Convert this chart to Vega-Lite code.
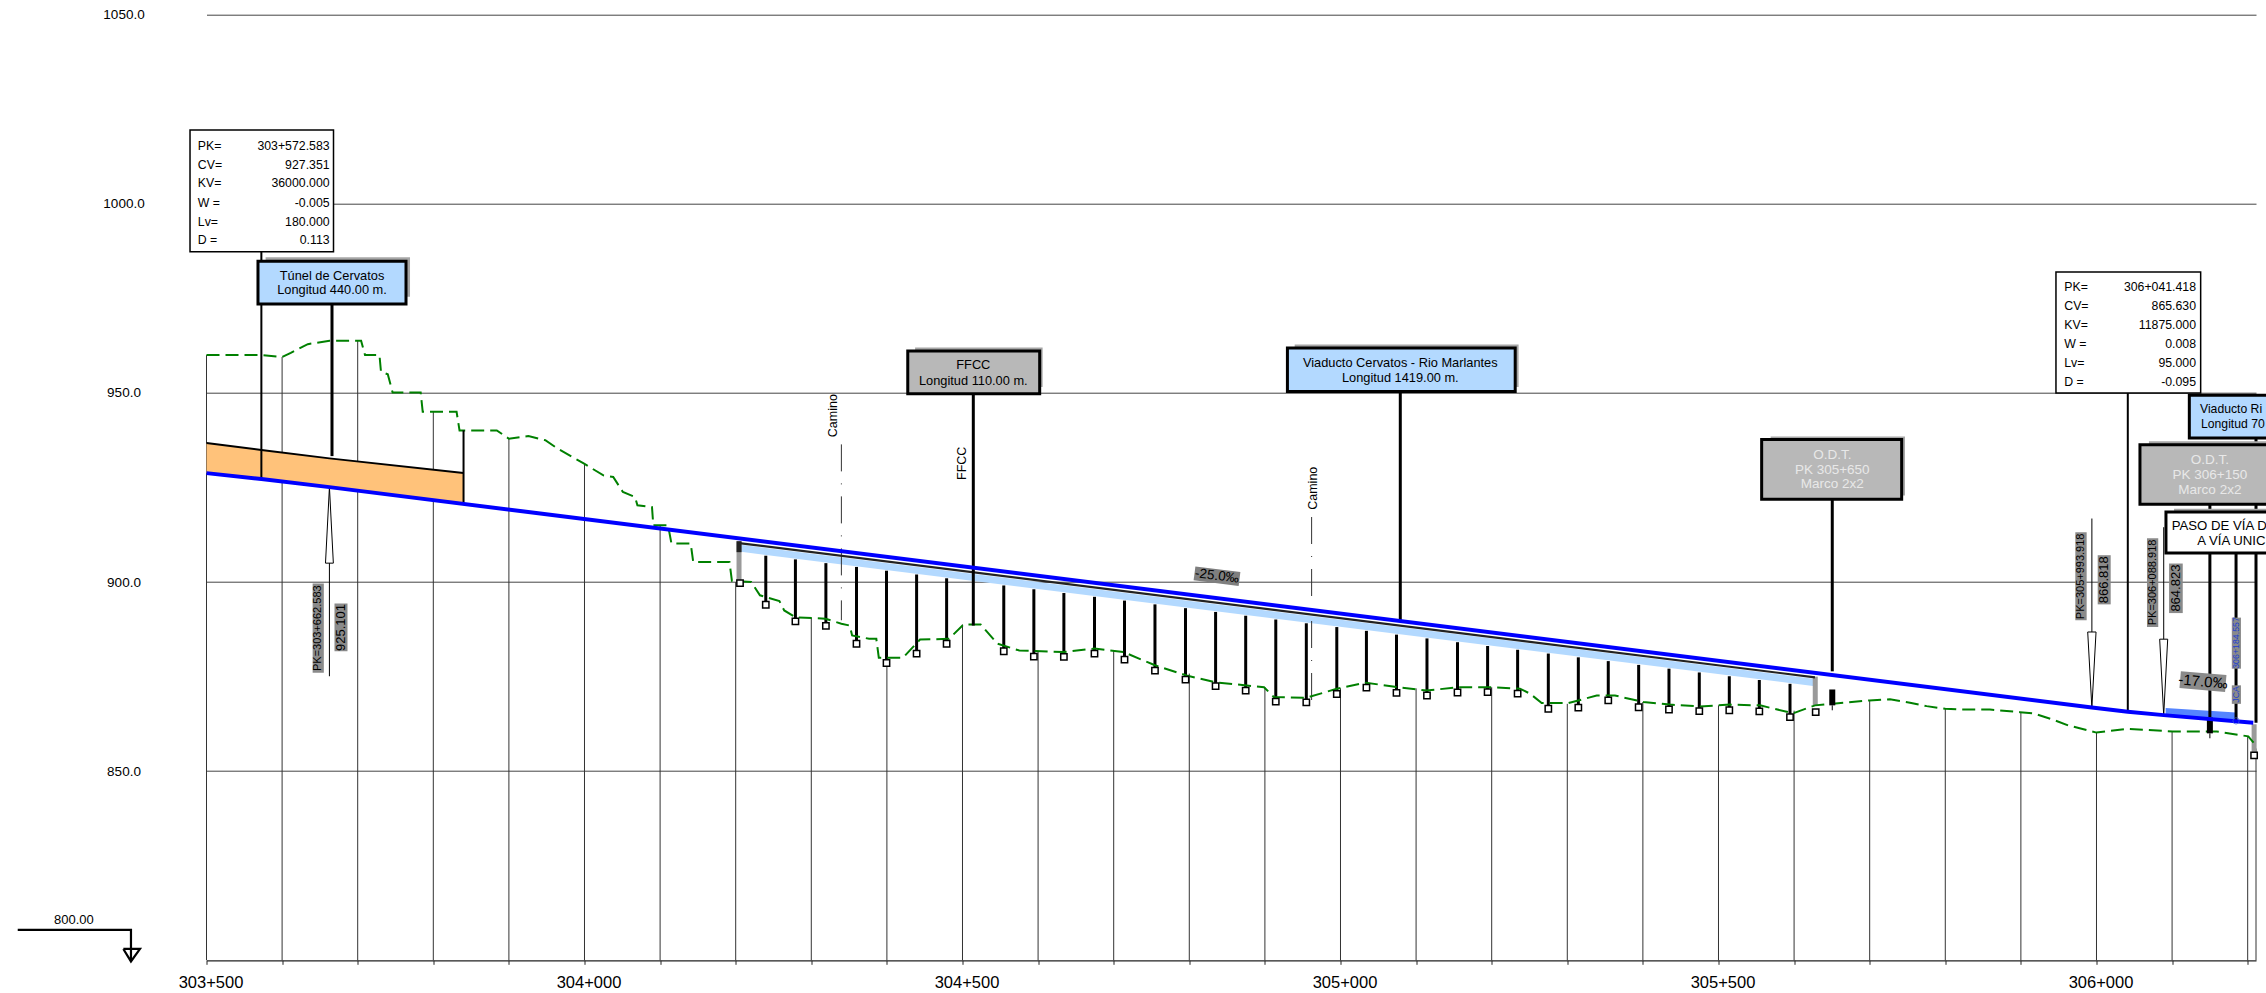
{
"$schema":"https://vega.github.io/schema/vega-lite/v6.json",
"width":2049.5,"height":945.6,
"autosize":{"type":"none"},
"padding":{"left":206.5,"top":14.7,"right":10,"bottom":32.7},
"background":"white",
"config":{"view":{"stroke":null},"text":{"font":"Liberation Sans"}},
"datasets":{
"stations":[{"st":303500,"el":960,"el2":800},{"st":303600,"el":959.5,"el2":800},{"st":303700,"el":963.8,"el2":800},{"st":303800,"el":945,"el2":800},{"st":303900,"el":937.9,"el2":800},{"st":304000,"el":931.3,"el2":800},{"st":304100,"el":915,"el2":800},{"st":304200,"el":900,"el2":800},{"st":304300,"el":890.5,"el2":800},{"st":304400,"el":879.8,"el2":800},{"st":304500,"el":888.8,"el2":800},{"st":304600,"el":881.5,"el2":800},{"st":304700,"el":881.9,"el2":800},{"st":304800,"el":875.8,"el2":800},{"st":304900,"el":872.2,"el2":800},{"st":305000,"el":871.9,"el2":800},{"st":305100,"el":871.9,"el2":800},{"st":305200,"el":872.2,"el2":800},{"st":305300,"el":867.8,"el2":800},{"st":305400,"el":868.3,"el2":800},{"st":305500,"el":867.4,"el2":800},{"st":305600,"el":866,"el2":800},{"st":305700,"el":868.7,"el2":800},{"st":305800,"el":866.5,"el2":800},{"st":305900,"el":865.6,"el2":800},{"st":306000,"el":860.2,"el2":800},{"st":306100,"el":860.5,"el2":800},{"st":306200,"el":859.2,"el2":800},{"st":306211,"el":856,"el2":800}],
"tunnel":[{"st":303500,"el":936.77,"el2":928.8},{"st":303572.6,"el":934.9,"el2":927.24},{"st":303662.6,"el":932.7,"el2":925.1},{"st":303840,"el":928.84,"el2":920.66}],
"deck":[{"st":304204.4,"el":909.9,"el2":908.06},{"st":305627.6,"el":874.4,"el2":872.47}],
"deckline":[{"st":304204.4,"el":910.3},{"st":305627.6,"el":874.8}],
"wedge":[{"st":306091.5,"el":866.7,"el2":864.78},{"st":306184.6,"el":865.5,"el2":863.2}],
"ground":[{"st":303500,"el":960},{"st":303573.1,"el":960},{"st":303600,"el":959.5},{"st":303611.5,"el":960.6},{"st":303634,"el":962.9},{"st":303662.8,"el":963.8},{"st":303704.5,"el":963.8},{"st":303709.7,"el":960},{"st":303728.8,"el":960},{"st":303730.8,"el":955.6},{"st":303739.8,"el":954.95},{"st":303746.2,"el":950.1},{"st":303783.3,"el":950.1},{"st":303786,"el":945},{"st":303830.8,"el":945},{"st":303834.7,"el":940.1},{"st":303884,"el":940.1},{"st":303900,"el":937.9},{"st":303925.8,"el":938.6},{"st":303948.2,"el":937.5},{"st":303964.2,"el":935.3},{"st":303999.5,"el":931.3},{"st":304025,"el":928.2},{"st":304038,"el":927.8},{"st":304050.8,"el":923.8},{"st":304066.8,"el":922.5},{"st":304070,"el":920.3},{"st":304089.3,"el":919.8},{"st":304091,"el":915},{"st":304110.5,"el":915},{"st":304115,"el":910.2},{"st":304140.5,"el":910.2},{"st":304143.8,"el":905.3},{"st":304191.8,"el":905.3},{"st":304195,"el":900.3},{"st":304220.6,"el":900},{"st":304232.1,"el":896.5},{"st":304257.8,"el":895},{"st":304264.2,"el":892.5},{"st":304279,"el":890.7},{"st":304318.7,"el":890.3},{"st":304339.8,"el":889},{"st":304350.8,"el":888.5},{"st":304354,"el":885.9},{"st":304376.5,"el":885},{"st":304386,"el":885},{"st":304389.3,"el":880},{"st":304421.3,"el":880},{"st":304443.8,"el":884.8},{"st":304482.1,"el":885},{"st":304501.5,"el":888.8},{"st":304524,"el":888.8},{"st":304546.3,"el":883.7},{"st":304575.1,"el":881.9},{"st":304633,"el":881.5},{"st":304674.6,"el":882.4},{"st":304713,"el":881.5},{"st":304754.6,"el":878},{"st":304796.4,"el":875.3},{"st":304834.8,"el":873.5},{"st":304898.9,"el":872.2},{"st":304911.8,"el":869.6},{"st":304954.8,"el":869.4},{"st":304995.1,"el":871.8},{"st":305033.6,"el":873.4},{"st":305075.3,"el":872.2},{"st":305113.8,"el":871.3},{"st":305155.4,"el":872.2},{"st":305200.4,"el":872.2},{"st":305237.4,"el":871.8},{"st":305250.7,"el":870.5},{"st":305266.1,"el":868},{"st":305301.3,"el":868},{"st":305338.9,"el":870},{"st":305363.1,"el":870},{"st":305400.6,"el":868.3},{"st":305435.8,"el":867.6},{"st":305475.5,"el":867.1},{"st":305515.2,"el":867.6},{"st":305555,"el":867.4},{"st":305598.9,"el":865.3},{"st":305627.6,"el":867.4},{"st":305699.5,"el":868.7},{"st":305726.8,"el":869},{"st":305753.3,"el":868.1},{"st":305775.4,"el":867.2},{"st":305800,"el":866.5},{"st":305819.5,"el":866.3},{"st":305859.1,"el":866.3},{"st":305898.8,"el":865.6},{"st":305916.4,"el":865.3},{"st":305942.9,"el":863.6},{"st":305962.7,"el":862.1},{"st":306000,"el":860.2},{"st":306039.9,"el":861.2},{"st":306100.8,"el":860.5},{"st":306159,"el":860.5},{"st":306200.8,"el":859.2},{"st":306211,"el":856.8}],
"grade":[{"st":303500,"el":928.8},{"st":303572.6,"el":927.24},{"st":303662.6,"el":925.1},{"st":305993.9,"el":866.82},{"st":306041.4,"el":865.73},{"st":306088.9,"el":864.82},{"st":306207.4,"el":862.8}],
"piers":[{"st":304239.8,"el":906.97,"el2":894},{"st":304279,"el":906,"el2":889.6},{"st":304319.3,"el":905,"el2":888.4},{"st":304359.8,"el":904,"el2":883.7},{"st":304399.5,"el":903,"el2":878.6},{"st":304439.3,"el":902,"el2":881.1},{"st":304479,"el":901,"el2":883.7},{"st":304554.6,"el":899.1,"el2":881.7},{"st":304594.4,"el":898.1,"el2":880.3},{"st":304634.1,"el":897.1,"el2":880.2},{"st":304674.6,"el":896.1,"el2":881.1},{"st":304714.3,"el":895.1,"el2":879.5},{"st":304754.6,"el":894.1,"el2":876.6},{"st":304795,"el":893.1,"el2":874.2},{"st":304834.8,"el":892.1,"el2":872.5},{"st":304874.6,"el":891.1,"el2":871.3},{"st":304914.4,"el":890.1,"el2":868.4},{"st":304954.8,"el":889.1,"el2":868.2},{"st":304995.1,"el":888.1,"el2":870.4},{"st":305034.3,"el":887.1,"el2":872.1},{"st":305074.1,"el":886.1,"el2":870.7},{"st":305114.4,"el":885.1,"el2":870},{"st":305154.8,"el":884.1,"el2":870.8},{"st":305194.6,"el":883.1,"el2":870.9},{"st":305234.3,"el":882.1,"el2":870.5},{"st":305274.9,"el":881.1,"el2":866.5},{"st":305314.6,"el":880.1,"el2":866.8},{"st":305354.2,"el":879.1,"el2":868.7},{"st":305394.4,"el":878.1,"el2":866.9},{"st":305434.5,"el":877.1,"el2":866.3},{"st":305474.6,"el":876.1,"el2":865.9},{"st":305514.3,"el":875.1,"el2":866.1},{"st":305554,"el":874.1,"el2":865.8},{"st":305594.6,"el":873.1,"el2":864.3}],
"footings":[{"st":304205.7,"el":899.7},{"st":304239.8,"el":894},{"st":304279,"el":889.6},{"st":304319.3,"el":888.4},{"st":304359.8,"el":883.7},{"st":304399.5,"el":878.6},{"st":304439.3,"el":881.1},{"st":304479,"el":883.7},{"st":304554.6,"el":881.7},{"st":304594.4,"el":880.3},{"st":304634.1,"el":880.2},{"st":304674.6,"el":881.1},{"st":304714.3,"el":879.5},{"st":304754.6,"el":876.6},{"st":304795,"el":874.2},{"st":304834.8,"el":872.5},{"st":304874.6,"el":871.3},{"st":304914.4,"el":868.4},{"st":304954.8,"el":868.2},{"st":304995.1,"el":870.4},{"st":305034.3,"el":872.1},{"st":305074.1,"el":870.7},{"st":305114.4,"el":870},{"st":305154.8,"el":870.8},{"st":305194.6,"el":870.9},{"st":305234.3,"el":870.5},{"st":305274.9,"el":866.5},{"st":305314.6,"el":866.8},{"st":305354.2,"el":868.7},{"st":305394.4,"el":866.9},{"st":305434.5,"el":866.3},{"st":305474.6,"el":865.9},{"st":305514.3,"el":866.1},{"st":305554,"el":865.8},{"st":305594.6,"el":864.3},{"st":305628.6,"el":865.6},{"st":306208.5,"el":854.2}],
"abutGrey":[{"st":304204.4,"el":910.8,"el2":900.4},{"st":305628,"el":875,"el2":867.5},{"st":306208.5,"el":862.4,"el2":854.2}],
"abutDark":[{"st":304204.4,"el":910.8,"el2":907.9}],
"heavy":[{"st":303666,"el":973.5,"el2":933.3},{"st":304514.3,"el":949.8,"el2":888.5},{"st":305079.1,"el":950.4,"el2":889.9},{"st":305650.5,"el":921.9,"el2":876.4},{"st":306150,"el":920.6,"el2":864.3},{"st":306211,"el":938,"el2":862.8},{"st":306184.6,"el":907.7,"el2":863.4}],
"medium":[{"st":303572.583,"el":987.3,"el2":927.2},{"st":306041.418,"el":950,"el2":865.7},{"st":303840,"el":940.1,"el2":920.7}],
"stems":[{"st":303662.583,"el":905,"el2":875.1},{"st":305993.918,"el":916.8,"el2":886.8},{"st":306088.918,"el":914.5,"el2":884.9},{"st":305650.5,"el":867.4,"el2":866.1},{"st":306150,"el":860,"el2":858.7}],
"plugs":[{"st":305650.5,"el":871.6,"el2":867.4},{"st":306150,"el":864.2,"el2":860}],
"arrows":[{"id":"a","i":1,"st":303657.4,"el":905},{"id":"a","i":2,"st":303662.6,"el":925.1},{"id":"a","i":3,"st":303667.8,"el":905},{"id":"a","i":4,"st":303657.4,"el":905},{"id":"b","i":1,"st":305988.4,"el":886.8},{"id":"b","i":2,"st":305993.9,"el":866.8},{"id":"b","i":3,"st":305999.4,"el":886.8},{"id":"b","i":4,"st":305988.4,"el":886.8},{"id":"c","i":1,"st":306083.6,"el":884.9},{"id":"c","i":2,"st":306088.9,"el":864.8},{"id":"c","i":3,"st":306094.2,"el":884.9},{"id":"c","i":4,"st":306083.6,"el":884.9}],
"camino":[{"st":304339.8,"el":936.4,"el2":889.9},{"st":304961.8,"el":917.2,"el2":868.7}],
"shadows":[{"st":303578.2,"st2":303769.2,"el":985.9,"el2":975.4},{"st":304437.3,"st2":304606,"el":962,"el2":951.6},{"st":304939.4,"st2":305235.6,"el":962.8,"el2":951.6},{"st":305569,"st2":305746.7,"el":938.5,"el2":922.9},{"st":306069.4,"st2":306270,"el":937.2,"el2":921.6},{"st":306102.6,"st2":306270,"el":919.4,"el2":908.6}],
"boxes":[{"st":303568.1,"st2":303763.9,"el":984.8,"el2":973.5,"kind":"blue"},{"st":304427.6,"st2":304602.1,"el":961.1,"el2":949.8,"kind":"grey"},{"st":304929.8,"st2":305231.1,"el":961.9,"el2":950.4,"kind":"blue"},{"st":305557.1,"st2":305742.3,"el":937.7,"el2":921.9,"kind":"grey"},{"st":306122.8,"st2":306270,"el":949.4,"el2":938.1,"kind":"blue"},{"st":306057.5,"st2":306270,"el":936.3,"el2":920.6,"kind":"grey"},{"st":306091.9,"st2":306270,"el":918.5,"el2":907.7,"kind":"white"}],
"pkboxes":[{"st":303478.2,"st2":303668,"el":1019.5,"el2":987.3},{"st":305946.4,"st2":306137.8,"el":982,"el2":950}],
"greybg":[{"st":303640.4,"st2":303655.2,"el":899.6,"el2":876},{"st":303669.3,"st2":303686.5,"el":894.3,"el2":881.7},{"st":305972,"st2":305987,"el":913.2,"el2":889.9},{"st":306001.6,"st2":306018.8,"el":907.1,"el2":894.1},{"st":306066.8,"st2":306081.7,"el":911.6,"el2":888.1},{"st":306096,"st2":306114.1,"el":904.9,"el2":891.8},{"st":306179,"st2":306191.1,"el":890.6,"el2":877.1},{"st":306179,"st2":306191.1,"el":872.7,"el2":867.8}],
"slope25":[{"st":304806.9,"st2":304866.4,"el":902.3,"el2":900.8}],
"slope17":[{"st":306110.7,"st2":306171,"el":874.2,"el2":873.2}],
"boxtext":[{"t":"Túnel de Cervatos","st":303666,"el":980.9},{"t":"Longitud 440.00 m.","st":303666,"el":977.2},{"t":"FFCC","st":304514.3,"el":957.5},{"t":"Longitud 110.00 m.","st":304514.3,"el":953.2},{"t":"Viaducto Cervatos - Rio Marlantes","st":305079.1,"el":957.9},{"t":"Longitud 1419.00 m.","st":305079.1,"el":954}],
"lefttext":[{"t":"PASO DE VÍA D","st":306099.5,"el":914.7},{"t":"A VÍA UNIC","st":306133.3,"el":910.8}],
"riotext":[{"t":"Viaducto Ri","st":306136.9,"el":945.7},{"t":"Longitud 70","st":306138.3,"el":941.9}],
"odttext":[{"t":"O.D.T.","st":305650.5,"el":933.7},{"t":"PK 305+650","st":305650.5,"el":929.7},{"t":"Marco 2x2","st":305650.5,"el":925.8},{"t":"O.D.T.","st":306150,"el":932.2},{"t":"PK 306+150","st":306150,"el":928.2},{"t":"Marco 2x2","st":306150,"el":924.3}],
"pkleft":[{"t":"PK=","st":303488.5,"el":1015.3},{"t":"CV=","st":303488.5,"el":1010.2},{"t":"KV=","st":303488.5,"el":1005.4},{"t":"W =","st":303488.5,"el":1000.3},{"t":"Lv=","st":303488.5,"el":995.2},{"t":"D =","st":303488.5,"el":990.4},{"t":"PK=","st":305957.4,"el":977.9},{"t":"CV=","st":305957.4,"el":972.9},{"t":"KV=","st":305957.4,"el":967.9},{"t":"W =","st":305957.4,"el":962.9},{"t":"Lv=","st":305957.4,"el":957.9},{"t":"D =","st":305957.4,"el":952.9}],
"pkright":[{"t":"303+572.583","st":303662.8,"el":1015.3},{"t":"927.351","st":303662.8,"el":1010.2},{"t":"36000.000","st":303662.8,"el":1005.4},{"t":"-0.005","st":303662.8,"el":1000.3},{"t":"180.000","st":303662.8,"el":995.2},{"t":"0.113","st":303662.8,"el":990.4},{"t":"306+041.418","st":306131.7,"el":977.9},{"t":"865.630","st":306131.7,"el":972.9},{"t":"11875.000","st":306131.7,"el":967.9},{"t":"0.008","st":306131.7,"el":962.9},{"t":"95.000","st":306131.7,"el":957.9},{"t":"-0.095","st":306131.7,"el":952.9}],
"rotPK":[{"t":"PK=303+662.583","st":303647.8,"el":887.8},{"t":"PK=305+993.918","st":305979.5,"el":901.5},{"t":"PK=306+088.918","st":306074.2,"el":899.9}],
"rotEl":[{"t":"925.101","st":303677.9,"el":888},{"t":"866.818","st":306010.2,"el":900.6},{"t":"864.823","st":306105,"el":898.4}],
"rotBlack":[{"t":"Camino","st":304328.3,"el":944},{"t":"FFCC","st":304499.3,"el":931.4},{"t":"Camino","st":304963.1,"el":924.8}],
"rotBlue":[{"t":"306+184.557","st":306185,"el":883.9},{"t":"JCA","st":306185,"el":870.3}],
"datum":[{"t":"800.00","st":303324.6,"el":810.7}],
"datumLine":[{"i":1,"st":303250.3,"el":808.04},{"i":2,"st":303400.1,"el":808.04},{"i":3,"st":303400.1,"el":799.9}],
"datumTri":[{"i":1,"st":303390,"el":803},{"i":2,"st":303412,"el":803},{"i":3,"st":303400.1,"el":799.7},{"i":4,"st":303390,"el":803}]
},
"encoding":{
"x":{"field":"st","type":"quantitative","scale":{"domain":[303500,306211],"nice":false,"zero":false},
 "axis":{"title":null,"grid":false,"values":[303500,303600,303700,303800,303900,304000,304100,304200,304300,304400,304500,304600,304700,304800,304900,305000,305100,305200,305300,305400,305500,305600,305700,305800,305900,306000,306100,306200],
 "labelExpr":"datum.value % 500 == 0 ? floor(datum.value/1000) + '+' + (datum.value % 1000 == 0 ? '000' : '500') : ''",
 "labelFont":"Liberation Sans","labelFontSize":16.5,"labelColor":"#000","labelOffset":4,"labelPadding":10,"labelOverlap":false,"labelFlush":false,"labelBound":false,"tickSize":4,"tickColor":"#222","domainColor":"#222","domainWidth":1.2,"tickWidth":1}},
"y":{"field":"el","type":"quantitative","scale":{"domain":[800,1050],"nice":false,"zero":false},
 "axis":{"title":null,"grid":true,"gridColor":"#444","gridWidth":1,"domain":false,"ticks":false,"values":[850,900,950,1000,1050],"format":".1f","labelFont":"Liberation Sans","labelFontSize":13.5,"labelColor":"#000","labelAlign":"center","labelPadding":83,"labelOverlap":false,"labelBound":false}}
},
"layer":[
{"data":{"name":"stations"},"mark":{"type":"rule","color":"#333","strokeWidth":1},"encoding":{"y2":{"field":"el2"}}},
{"data":{"name":"tunnel"},"mark":{"type":"area","color":"#ffc27a"},"encoding":{"y2":{"field":"el2"}}},
{"data":{"name":"tunnel"},"mark":{"type":"line","color":"#000","strokeWidth":2},"encoding":{}},
{"data":{"name":"deck"},"mark":{"type":"area","color":"#b3d9ff"},"encoding":{"y2":{"field":"el2"}}},
{"data":{"name":"abutGrey"},"mark":{"type":"rule","color":"#9a9a9a","strokeWidth":5},"encoding":{"y2":{"field":"el2"}}},
{"data":{"name":"abutDark"},"mark":{"type":"rule","color":"#222","strokeWidth":5},"encoding":{"y2":{"field":"el2"}}},
{"data":{"name":"piers"},"mark":{"type":"rule","color":"#000","strokeWidth":3},"encoding":{"y2":{"field":"el2"}}},
{"data":{"name":"camino"},"mark":{"type":"rule","color":"#333","strokeWidth":1,"strokeDash":[27,12,1,12]},"encoding":{"y2":{"field":"el2"}}},
{"data":{"name":"ground"},"mark":{"type":"line","color":"#008000","strokeWidth":2,"strokeDash":[13,6]},"encoding":{}},
{"data":{"name":"footings"},"mark":{"type":"point","shape":"square","filled":true,"fill":"white","stroke":"#000","strokeWidth":1.5,"size":40,"opacity":1},"encoding":{}},
{"data":{"name":"deckline"},"mark":{"type":"line","color":"#222","strokeWidth":2.2},"encoding":{}},
{"data":{"name":"wedge"},"mark":{"type":"area","color":"#5585ff"},"encoding":{"y2":{"field":"el2"}}},
{"data":{"name":"stems"},"mark":{"type":"rule","color":"#000","strokeWidth":1},"encoding":{"y2":{"field":"el2"}}},
{"data":{"name":"arrows"},"mark":{"type":"line","color":"#000","strokeWidth":1},"encoding":{"detail":{"field":"id"},"order":{"field":"i"}}},
{"data":{"name":"medium"},"mark":{"type":"rule","color":"#000","strokeWidth":2},"encoding":{"y2":{"field":"el2"}}},
{"data":{"name":"heavy"},"mark":{"type":"rule","color":"#000","strokeWidth":3},"encoding":{"y2":{"field":"el2"}}},
{"data":{"name":"plugs"},"mark":{"type":"rule","color":"#000","strokeWidth":6},"encoding":{"y2":{"field":"el2"}}},
{"data":{"name":"grade"},"mark":{"type":"line","color":"#0000ff","strokeWidth":4},"encoding":{}},
{"data":{"values":[{"st":306184.6,"el":863.3}]},"mark":{"type":"point","shape":"circle","stroke":"#4060e0","strokeWidth":1,"size":40},"encoding":{}},
{"data":{"name":"shadows"},"mark":{"type":"rect","color":"#a6a6a6"},"encoding":{"x2":{"field":"st2"},"y2":{"field":"el2"}}},
{"data":{"name":"boxes"},"mark":{"type":"rect","stroke":"#000","strokeWidth":3},"encoding":{"x2":{"field":"st2"},"y2":{"field":"el2"},"fill":{"field":"kind","type":"nominal","legend":null,"scale":{"domain":["blue","grey","white"],"range":["#b3d9ff","#b8b8b8","#ffffff"]}}}},
{"data":{"name":"pkboxes"},"mark":{"type":"rect","fill":"#fff","stroke":"#000","strokeWidth":1.5},"encoding":{"x2":{"field":"st2"},"y2":{"field":"el2"}}},
{"data":{"name":"greybg"},"mark":{"type":"rect","color":"#8a8a8a"},"encoding":{"x2":{"field":"st2"},"y2":{"field":"el2"}}},
{"data":{"name":"slope25"},"mark":{"type":"rule","color":"#7f7f7f","strokeWidth":14},"encoding":{"x2":{"field":"st2"},"y2":{"field":"el2"}}},
{"data":{"name":"slope17"},"mark":{"type":"rule","color":"#8a8a8a","strokeWidth":17},"encoding":{"x2":{"field":"st2"},"y2":{"field":"el2"}}},
{"data":{"name":"boxtext"},"mark":{"type":"text","font":"Liberation Sans","fontSize":12.8,"color":"#000","align":"center","baseline":"middle"},"encoding":{"text":{"field":"t"}}},
{"data":{"name":"lefttext"},"mark":{"type":"text","font":"Liberation Sans","fontSize":13.2,"color":"#000","align":"left","baseline":"middle"},"encoding":{"text":{"field":"t"}}},
{"data":{"name":"riotext"},"mark":{"type":"text","font":"Liberation Sans","fontSize":12.2,"color":"#000","align":"left","baseline":"middle"},"encoding":{"text":{"field":"t"}}},
{"data":{"name":"odttext"},"mark":{"type":"text","font":"Liberation Sans","fontSize":13.5,"color":"#e8e8e8","align":"center","baseline":"middle"},"encoding":{"text":{"field":"t"}}},
{"data":{"name":"pkleft"},"mark":{"type":"text","font":"Liberation Sans","fontSize":12.3,"color":"#000","align":"left","baseline":"middle"},"encoding":{"text":{"field":"t"}}},
{"data":{"name":"pkright"},"mark":{"type":"text","font":"Liberation Sans","fontSize":12.3,"color":"#000","align":"right","baseline":"middle"},"encoding":{"text":{"field":"t"}}},
{"data":{"name":"rotPK"},"mark":{"type":"text","font":"Liberation Sans","fontSize":11,"color":"#000","angle":270,"align":"center","baseline":"middle"},"encoding":{"text":{"field":"t"}}},
{"data":{"name":"rotEl"},"mark":{"type":"text","font":"Liberation Sans","fontSize":13,"color":"#000","angle":270,"align":"center","baseline":"middle"},"encoding":{"text":{"field":"t"}}},
{"data":{"name":"rotBlack"},"mark":{"type":"text","font":"Liberation Sans","fontSize":12.5,"color":"#000","angle":270,"align":"center","baseline":"middle"},"encoding":{"text":{"field":"t"}}},
{"data":{"name":"rotBlue"},"mark":{"type":"text","font":"Liberation Sans","fontSize":8.8,"color":"#2040d0","angle":270,"align":"center","baseline":"middle"},"encoding":{"text":{"field":"t"}}},
{"data":{"values":[{"t":"-25.0‰","st":304836.7,"el":901.6}]},"mark":{"type":"text","font":"Liberation Sans","fontSize":13.5,"color":"#000","angle":7,"align":"center","baseline":"middle"},"encoding":{"text":{"field":"t"}}},
{"data":{"values":[{"t":"-17.0‰","st":306140.9,"el":873.7}]},"mark":{"type":"text","font":"Liberation Sans","fontSize":15,"color":"#000","angle":5,"align":"center","baseline":"middle"},"encoding":{"text":{"field":"t"}}},
{"data":{"name":"datum"},"mark":{"type":"text","font":"Liberation Sans","fontSize":13,"color":"#000","align":"center","baseline":"middle"},"encoding":{"text":{"field":"t"}}},
{"data":{"name":"datumLine"},"mark":{"type":"line","color":"#000","strokeWidth":2.2},"encoding":{"order":{"field":"i"}}},
{"data":{"name":"datumTri"},"mark":{"type":"line","color":"#000","strokeWidth":2.2},"encoding":{"order":{"field":"i"}}}
]
}
